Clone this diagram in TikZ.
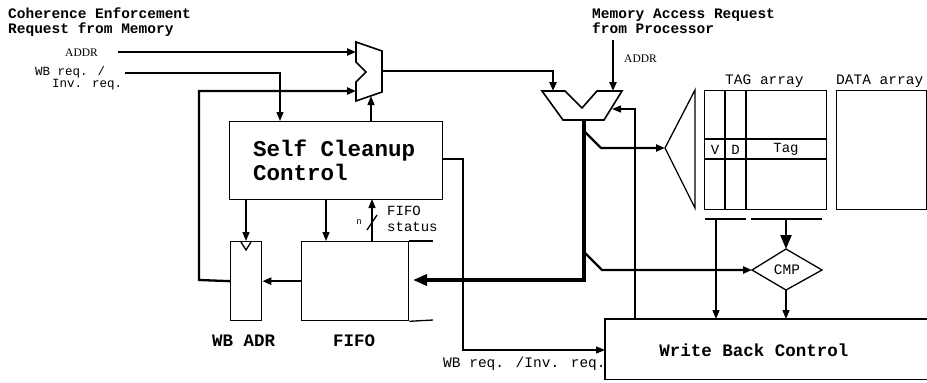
\documentclass[tikz,border=0pt]{standalone}
\usepackage{fontspec}
\setmainfont{Liberation Serif}
\newfontfamily\monofont{Liberation Mono}
\usetikzlibrary{arrows.meta}
\begin{document}
\begin{tikzpicture}[x=1pt,y=-1pt,
  line/.style={line width=1.3pt},
  midl/.style={line width=2.3pt},
  bus/.style={line width=3.8pt},
  arr/.style={-{Triangle[length=9pt,width=7pt]}},
  barr/.style={-{Triangle[length=14pt,width=11pt]}},
  box/.style={draw,line width=1.3pt,inner sep=0pt,anchor=north west},
  lbl/.style={inner sep=0pt,anchor=base west,font=\monofont},
  ttl/.style={inner sep=0pt,anchor=base west,font=\monofont\bfseries\fontsize{14.5}{16}\selectfont},
  big/.style={inner sep=0pt,anchor=base west,font=\monofont\bfseries\fontsize{22.5}{24}\selectfont},
  mid/.style={inner sep=0pt,font=\monofont\bfseries\fontsize{17.5}{19}\selectfont},
  reg/.style={inner sep=0pt,font=\monofont\fontsize{14.5}{16}\selectfont},
  sm/.style={inner sep=0pt,font=\monofont\fontsize{14}{15}\selectfont},
  serifl/.style={inner sep=0pt,anchor=base west,font=\fontsize{11.5}{13}\selectfont}
]
\useasboundingbox (0,0) rectangle (927,383);

% ---------- titles ----------
\node[ttl] (t1) at (8,18) {Coherence Enforcement};
\node[ttl] (t2) at (8,33) {Request from Memory};
\node[ttl] (t3) at (592,18) {Memory Access Request};
\node[ttl] (t4) at (592,33) {from Processor};

\node[serifl] (addrL) at (65,56) {ADDR};
\node[serifl] (addrR) at (624,62) {ADDR};
\node[lbl,font=\monofont\fontsize{12.5}{13}\selectfont] (wbq1) at (35,75) {WB req. /};
\node[lbl,font=\monofont\fontsize{12.5}{13}\selectfont] (wbq2) at (52,87) {Inv. req.};

% ---------- boxes ----------
\node[box,minimum width=213pt,minimum height=78pt] (scc) at (229,121) {};
\node[big] (scct1) at (253,156) {Self Cleanup};
\node[big] (scct2) at (253,180) {Control};

\node[box,minimum width=31pt,minimum height=79pt] (wbadr) at (230,241) {};
\node[box,minimum width=107pt,minimum height=79pt] (fifo) at (301,241) {};
\coordinate (fifoTR) at (433,241);
\coordinate (fifoBR) at (433,320);
\draw[line] (fifo.north east) -- (fifoTR);
\draw[line] (fifo.south east) -- (fifoBR);
\node[mid,anchor=base west] (wbadrl) at (212,346) {WB ADR};
\node[mid,anchor=base west] (fifol) at (333,346) {FIFO};

% clock triangle in WB ADR
\coordinate (ck1) at (241,242);
\coordinate (ck2) at (251,242);
\coordinate (ck3) at (246,250);
\draw[line] (ck1) -- (ck3) -- (ck2);

% tag / data arrays
\node[box,minimum width=122pt,minimum height=119pt] (tag) at (704,90) {};
\node[box,minimum width=90pt,minimum height=119pt] (data) at (836,90) {};
\node[reg,anchor=base west] (tagl) at (725,84) {TAG array};
\node[reg,anchor=base west] (datal) at (836,84) {DATA array};
\coordinate (tv1t) at (725,90); \coordinate (tv1b) at (725,209);
\coordinate (tv2t) at (746,90); \coordinate (tv2b) at (746,209);
\coordinate (th1l) at (704,139); \coordinate (th1r) at (826,139);
\coordinate (th2l) at (704,159); \coordinate (th2r) at (826,159);
\draw[line] (tv1t) -- (tv1b);
\draw[line] (tv2t) -- (tv2b);
\draw[line] (th1l) -- (th1r);
\draw[line] (th2l) -- (th2r);
\node[sm] (vl) at (715,149.5) {V};
\node[sm] (dl) at (735.5,149.5) {D};
\node[sm] (tgl) at (786,149.5) {Tag};

% output lines under tag array
\coordinate (ol1a) at (705,219); \coordinate (ol1b) at (746,219);
\coordinate (ol2a) at (751,219); \coordinate (ol2b) at (822,219);
\draw[line] (ol1a) -- (ol1b);
\draw[line] (ol2a) -- (ol2b);

% decoder
\coordinate (dec) at (665,148);
\coordinate (decT) at (695,90);
\coordinate (decB) at (695,208);
\draw[line] (dec) -- (decT) -- (decB) -- cycle;

% CMP
\coordinate (cmpW) at (752,270);
\coordinate (cmpN) at (786,249);
\coordinate (cmpE) at (822,270);
\coordinate (cmpS) at (786,290);
\draw[line] (cmpW) -- (cmpN) -- (cmpE) -- (cmpS) -- cycle;
\node[sm,font=\monofont\fontsize{14.5}{15}\selectfont] (cmpl) at (787,270) {CMP};

% write back control (right side open)
\node[inner sep=0pt,minimum width=322pt,minimum height=60pt,anchor=north west] (wbc) at (605,319) {};
\draw[line] (wbc.north east) -- (wbc.north west) -- (wbc.south west) -- (wbc.south east);
\node[mid] (wbcl) at (754,350) {Write Back Control};

% ---------- mux 1 ----------
\coordinate (m1a) at (356,42);
\coordinate (m1b) at (382,51);
\coordinate (m1c) at (382,92);
\coordinate (m1d) at (356,101);
\coordinate (m1e) at (356,82);
\coordinate (m1f) at (366,72);
\coordinate (m1g) at (356,62);
\draw[line,line width=1.6pt] (m1a) -- (m1b) -- (m1c) -- (m1d) -- (m1e) -- (m1f) -- (m1g) -- cycle;
\coordinate (m1in1) at (356,52);
\coordinate (m1in2) at (356,91);
\coordinate (m1out) at (382,71);
\coordinate (m1ctl) at (371,96);

% ---------- mux 2 ----------
\coordinate (m2a) at (542,91);
\coordinate (m2b) at (565,91);
\coordinate (m2c) at (582,108);
\coordinate (m2d) at (597,91);
\coordinate (m2e) at (622,91);
\coordinate (m2f) at (604,120);
\coordinate (m2g) at (563,120);
\draw[line,line width=1.6pt] (m2a) -- (m2b) -- (m2c) -- (m2d) -- (m2e) -- (m2f) -- (m2g) -- cycle;
\coordinate (m2inL) at (553,91);
\coordinate (m2inR) at (613,91);
\coordinate (m2side) at (612,109);
\coordinate (m2out) at (584,120);

% ---------- connectors ----------
\coordinate (lA) at (118,52);
\draw[midl,arr] (lA) -- (m1in1);

\coordinate (lW) at (125,73);
\coordinate (sccW) at (280,121);
\draw[line,arr] (lW) -| (sccW);

\coordinate (loopc) at (199,280);
\draw[midl,arr] (wbadr.west) -- (loopc) |- (m1in2);

\draw[midl,arr] (m1out) -| (m2inL);

\coordinate (sccC) at (371,121);
\draw[line,arr] (sccC) -- (m1ctl);

\coordinate (pA) at (613,40);
\draw[midl,arr] (pA) -- (m2inR);

\coordinate (wbcR) at (635,319);
\draw[line,arr] (wbcR) |- (m2side);

\coordinate (busC) at (584,280);
\coordinate (fifoIn) at (413,280);
\draw[bus,barr] (m2out) -- (busC) -- (fifoIn);

\coordinate (br1a) at (584,131);
\coordinate (br1b) at (601,148);
\draw[midl,arr] (br1a) -- (br1b) -- (dec);

\coordinate (br2a) at (584,252);
\coordinate (br2b) at (602,270);
\draw[midl,arr] (br2a) -- (br2b) -- (cmpW);

\coordinate (tagO) at (786,219);
\draw[midl,barr] (tagO) -- (cmpN);

\coordinate (vdO) at (716,219);
\coordinate (wbcV) at (716,319);
\draw[line,arr] (vdO) -- (wbcV);

\coordinate (wbcC) at (786,319);
\draw[line,arr] (cmpS) -- (wbcC);

\coordinate (sccR) at (442,159);
\coordinate (sccRr) at (463,159);
\coordinate (wbcL) at (605,350);
\draw[line,arr] (sccR) -- (sccRr) |- (wbcL);
\node[lbl,font=\monofont\fontsize{14.5}{16}\selectfont] (wbreq) at (443,367) {WB req. /Inv. req.};

\coordinate (sccB1) at (246,199);
\coordinate (wbadrT) at (246,241);
\draw[line,arr] (sccB1) -- (wbadrT);
\coordinate (sccB2) at (326,199);
\coordinate (fifoT) at (326,241);
\draw[line,arr] (sccB2) -- (fifoT);

\coordinate (fsB) at (372,241);
\coordinate (fsT) at (372,199);
\draw[line,arr] (fsB) -- (fsT);
\coordinate (sl1) at (367,230);
\coordinate (sl2) at (377,215);
\draw[line] (sl1) -- (sl2);
\node[inner sep=0pt,font=\monofont\fontsize{9}{10}\selectfont] (nl) at (359,222) {n};
\node[reg,anchor=base west,font=\monofont\fontsize{14}{15}\selectfont] (fs1) at (387,215) {FIFO};
\node[reg,anchor=base west,font=\monofont\fontsize{14}{15}\selectfont] (fs2) at (387,231) {status};

\draw[midl,arr] (fifo.west) -- (wbadr.east);
\end{tikzpicture}
\end{document}
